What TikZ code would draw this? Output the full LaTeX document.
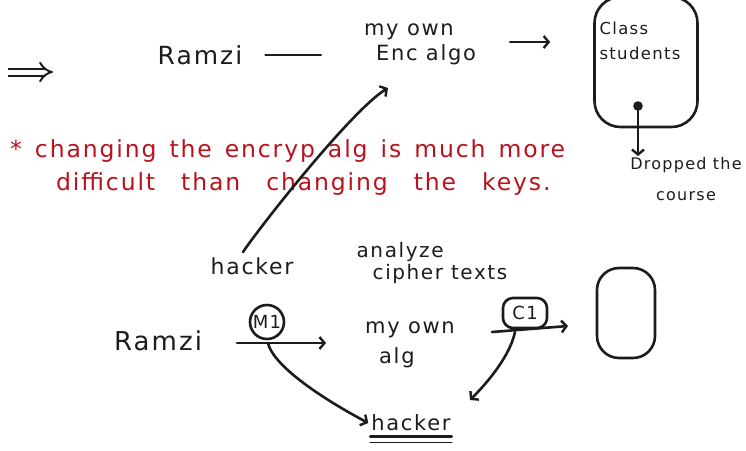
\documentclass[tikz,border=0pt]{standalone}
\usepackage{fontspec}
\setmainfont{DejaVu Sans}[LetterSpace=8]
\usetikzlibrary{arrows.meta}
\definecolor{ink}{HTML}{1C1C1C}
\definecolor{redink}{HTML}{B8121C}
% word gaps for the handwritten red remark
\newcommand{\wgap}{\hspace*{13pt}}
\newcommand{\wwide}{\hspace*{26pt}}
\begin{document}
\begin{tikzpicture}[x=1pt,y=-1pt,
  pen/.style={draw=ink, line width=2.6pt, line cap=round, line join=round},
  tip/.style={-{Straight Barb[length=5pt,width=12pt,line width=2.4pt]}},
  hand/.style={text=ink, font=\fontsize{21}{25}\selectfont, align=center, inner sep=1pt},
  small/.style={text=ink, font=\fontsize{16}{31}\selectfont, align=center, inner sep=1pt},
  note/.style={text=redink, font=\fontsize{23.5}{24}\selectfont, inner sep=0pt, anchor=west}
]
\useasboundingbox (0,0) rectangle (746,450);

% ---- top: the lecture-style setup ----
\coordinate (impA) at (8,72);
\coordinate (impB) at (53,72);
\draw[draw=ink, line width=2pt, double, double distance=5pt, -{Implies}] (impA) -- (impB);

\node[hand, font=\fontsize{25}{25}\selectfont] (ramziA) at (200,55) {Ramzi};
\node[hand, align=left] (encalg) at (420,44) {my own\\\hspace*{12pt}Enc algo};
\draw[pen, shorten <=22pt, shorten >=42pt] (ramziA.east) -- (ramziA.east -| encalg.west);

\node[pen, minimum width=103pt, minimum height=130pt, rounded corners=26pt] (cls) at (646,62) {};
\node[small, align=left, font=\fontsize{16.5}{25}\selectfont] (clsname) at (640,41) {Class\\students};
\draw[pen, tip, shorten <=33pt, shorten >=43pt] (encalg.east |- 0,42) -- (cls.west |- 0,42);

\coordinate (dot) at (638,106);
\fill[ink] (dot) circle (4.8pt);
\node[small] (drop) at (686,179) {Dropped the\\course};
\draw[pen, tip] (dot) -- (dot |- drop.north);

% ---- the remark in red ----
\node[note] (remark1) at (10,151) {*\wgap changing\wgap the\wgap encryp\wgap alg\wgap is\wgap much\wgap more};
\node[note] (remark2) at (56,184) {difficult\wwide than\wwide changing\wwide the\wwide keys.};

% ---- the hacker reaching the algorithm ----
\node[hand, font=\fontsize{22}{25}\selectfont] (hackerA) at (252,266) {hacker};
\coordinate (hackTail) at (243,252);
\coordinate (encIn) at (388,88);
\draw[pen, tip] (hackTail) .. controls (262,224) and (352,110) .. (encIn);

% ---- bottom: message through my own algorithm ----
\node[hand, align=left, font=\fontsize{20}{22}\selectfont] (analyze) at (432,263) {analyze\\\hspace*{16pt}cipher texts};

\node[hand, font=\fontsize{26}{25}\selectfont] (ramziB) at (158,341) {Ramzi};
\node[pen, circle, minimum size=34pt, inner sep=0pt, font=\fontsize{18}{18}\selectfont, text=ink] (m1) at (267,322) {M1};
\coordinate (m1L) at (237,343);
\coordinate (m1R) at (326,343);
\draw[pen, tip] (m1L) -- (m1R);

\node[hand, align=left, font=\fontsize{21}{30}\selectfont] (ownalg) at (410,345) {my own\\\hspace*{14pt}alg};

\node[pen, rounded corners=10pt, minimum width=44pt, minimum height=30pt, inner sep=0pt, font=\fontsize{18}{18}\selectfont, text=ink] (c1) at (525,313) {C1};
\coordinate (c1L) at (492,332);
\coordinate (c1R) at (568,326);
\draw[pen, tip] (c1L) -- (c1R);

\node[pen, minimum width=58pt, minimum height=90pt, rounded corners=22pt] (box2) at (626,313) {};

\node[hand, font=\fontsize{21}{25}\selectfont] (hackerB) at (411,423) {hacker};
\draw[pen] ([yshift=-4pt]hackerB.south west) -- ([yshift=-4pt]hackerB.south east);
\draw[pen, line width=1.6pt] ([yshift=-10pt]hackerB.south west) -- ([yshift=-10pt]hackerB.south east);

\coordinate (m1Out) at (268,343);
\coordinate (c1Out) at (515,332);
\draw[pen, tip] (m1Out) .. controls (272,362) and (310,392) .. ([xshift=-2pt]hackerB.west);
\draw[pen, tip] (c1Out) .. controls (510,355) and (490,380) .. (470,400);
\end{tikzpicture}
\end{document}
